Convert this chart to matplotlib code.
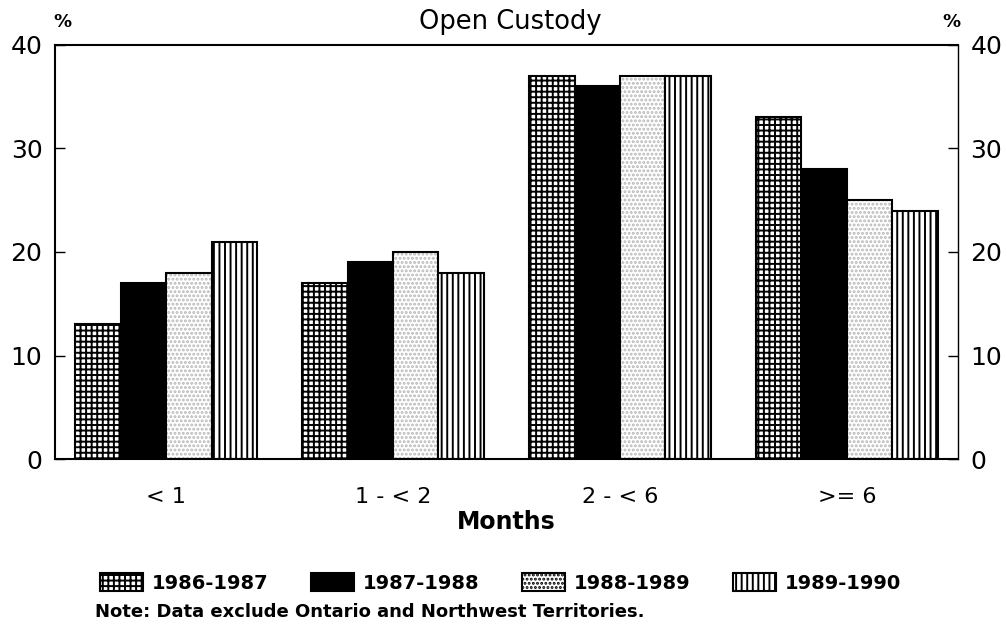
import numpy as np
import matplotlib
matplotlib.use("Agg")
import matplotlib.pyplot as plt
from matplotlib.patches import Patch

categories = ["< 1", "1 - < 2", "2 - < 6", ">= 6"]
series_labels = ["1986-1987", "1987-1988", "1988-1989", "1989-1990"]
values = {
    "1986-1987": [13, 17, 37, 33],
    "1987-1988": [17, 19, 36, 28],
    "1988-1989": [18, 20, 37, 25],
    "1989-1990": [21, 18, 37, 24],
}
y_ticks = [0, 10, 20, 30, 40]

# hatch style per series: (facecolor, hatch, hatch colour)
styles = {
    "1986-1987": ("white", "+++", "black"),
    "1987-1988": ("black", None, "black"),
    "1988-1989": ("white", "....", "#b8b8b8"),
    "1989-1990": ("white", "|||", "black"),
}

plt.rcParams["font.family"] = "DejaVu Sans"
plt.rcParams["hatch.linewidth"] = 1.4

fig = plt.figure(figsize=(10.07, 6.37), dpi=100)
ax = fig.add_axes([0.0546, 0.2794, 0.8967, 0.65])

x = np.arange(len(categories))
width = 0.2
for i, name in enumerate(series_labels):
    fc, hatch, hc = styles[name]
    pos = x + (i - 1.5) * width
    # fill + hatch first, then black outline on top
    ax.bar(pos, values[name], width, color=fc, hatch=hatch, edgecolor=hc, linewidth=0)
    ax.bar(pos, values[name], width, fill=False, edgecolor="black", linewidth=1.5)

ax.set_xlim(-0.49, 3.49)
ax.set_ylim(0, 40)
ax.set_yticks(y_ticks)
ax.set_xticks(x)
ax.set_xticklabels(categories, fontsize=16)
ax.tick_params(axis="x", length=0, pad=20)
ax.tick_params(axis="y", direction="in", length=7, width=1, labelsize=18,
               pad=9, left=True, right=True, labelleft=True, labelright=True)
for s in ax.spines.values():
    s.set_linewidth(1.5)
ax.spines["right"].set_linewidth(1)

fig.text(0.507, 0.965, "Open Custody", ha="center", va="center", fontsize=18.5)
fig.text(0.062, 0.965, "%", ha="center", va="center", fontsize=13, fontweight="bold")
fig.text(0.945, 0.965, "%", ha="center", va="center", fontsize=13, fontweight="bold")
fig.text(0.503, 0.18, "Months", ha="center", va="center", fontsize=17, fontweight="bold")

handles = []
for name in series_labels:
    fc, hatch, hc = styles[name]
    handles.append(Patch(facecolor=fc, hatch=hatch, edgecolor="black", linewidth=1.5))
fig.legend(handles, series_labels, loc="center", bbox_to_anchor=(0.497, 0.085), ncol=4,
           frameon=False, handlelength=2.2, handleheight=1.0, handletextpad=0.45,
           columnspacing=2.2, prop={"size": 14, "weight": "bold"})

fig.text(0.094, 0.039, "Note: Data exclude Ontario and Northwest Territories.",
         ha="left", va="center", fontsize=13, fontweight="bold")

fig.savefig("out.png", dpi=100)
